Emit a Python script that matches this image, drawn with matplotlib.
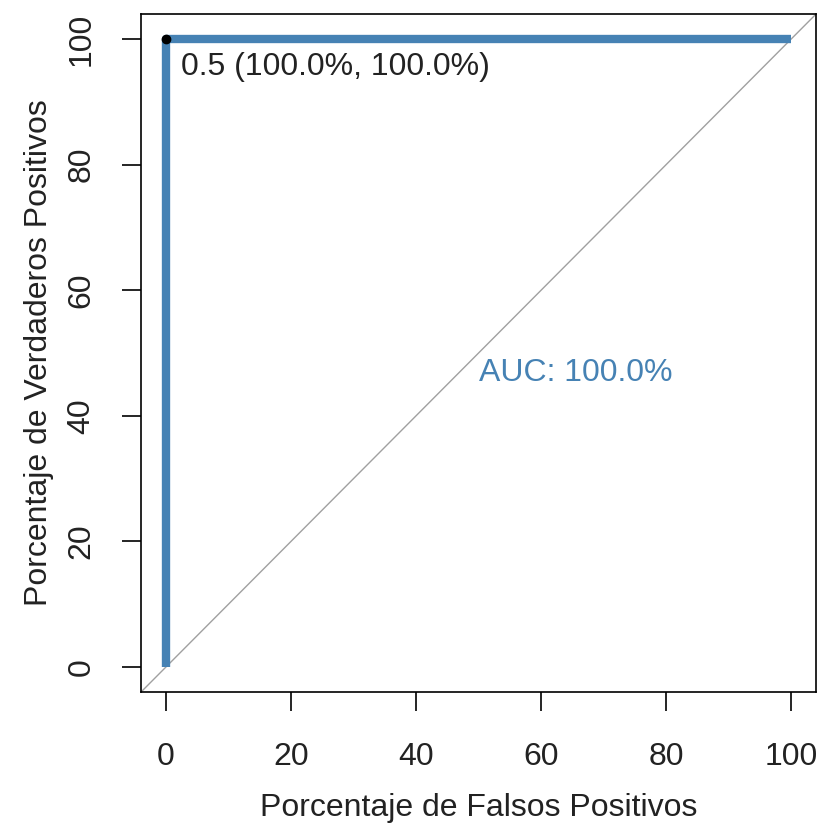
import matplotlib
matplotlib.use("Agg")
import matplotlib.pyplot as plt

# ROC curve points (percent)
fpr = [0, 0, 100]
tpr = [0, 100, 100]
best_thr = 0.5
best_pt = (0, 100)
auc = 100.0
ticks = [0, 20, 40, 60, 80, 100]

plt.rcParams['font.family'] = ['Liberation Sans', 'DejaVu Sans']
fs = 23

fig = plt.figure(figsize=(8.18, 8.27), dpi=100)
ax = fig.add_axes([0.1724, 0.1632, 0.8252, 0.8198])

ax.plot([-4, 104], [-4, 104], color='#a0a0a0', lw=1, zorder=1)
ax.plot(fpr, tpr, color='#4682b4', lw=6, solid_capstyle='butt', zorder=2)
ax.plot(*best_pt, 'o', color='black', ms=6, zorder=3)
ax.text(best_pt[0] + 2.4, 95.5, f"{best_thr} (100.0%, 100.0%)",
        ha='left', va='center', fontsize=fs, color='#222222')
ax.text(50, 46.9, f"AUC: {auc:.1f}%", ha='left', va='center',
        fontsize=fs, color='#4682b4')

ax.set_xlim(-4, 104)
ax.set_ylim(-4, 104)
ax.set_xticks(ticks)
ax.set_yticks(ticks)
ax.set_xticklabels([str(t) for t in ticks], fontsize=fs, color='#222222')
ax.set_yticklabels([str(t) for t in ticks], fontsize=fs, color='#222222',
                   rotation=90, va='center')
ax.tick_params(direction='out', length=14, width=1.2)
ax.tick_params(axis='x', pad=22)
ax.tick_params(axis='y', pad=18)
for s in ax.spines.values():
    s.set_linewidth(1.2)
ax.set_xlabel("Porcentaje de Falsos Positivos", fontsize=fs, labelpad=15,
              color='#222222')
ax.set_ylabel("Porcentaje de Verdaderos Positivos", fontsize=fs, labelpad=9,
              color='#222222')

fig.savefig("out.png", dpi=100)
